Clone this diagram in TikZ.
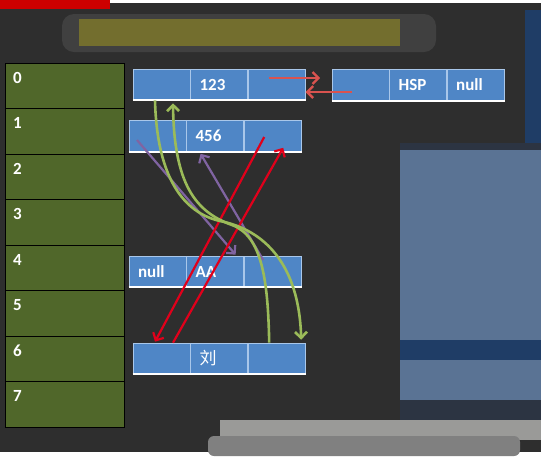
\documentclass[tikz,border=0pt]{standalone}
\usepackage{fontspec}
\setmainfont{Carlito}
\newfontfamily\cjk{Noto Sans CJK SC}
\usetikzlibrary{positioning, calc, arrows.meta}
\definecolor{board}{HTML}{2E2E2E}
\definecolor{slotgreen}{HTML}{50672A}
\definecolor{cellblue}{HTML}{4F86C6}
\definecolor{cellline}{HTML}{A9C7EA}
\definecolor{linkred}{HTML}{D9534F}
\definecolor{crossred}{HTML}{E0001B}
\definecolor{linkgreen}{HTML}{9BBB59}
\definecolor{linkpurple}{HTML}{8064A2}
\definecolor{blurblue}{HTML}{5A7394}
\definecolor{blurnavy}{HTML}{1F3D66}
\definecolor{blurdark}{HTML}{2C3442}
\definecolor{blurgrey}{HTML}{9A9A98}
\definecolor{blurolive}{HTML}{736E2E}

\begin{document}
\begin{tikzpicture}[x=1pt, y=-1pt, >={Straight Barb[length=6pt,width=12pt]},
    slot/.style={draw=black, fill=slotgreen, minimum width=119pt, minimum height=45.5pt, inner sep=0pt},
    slotnum/.style={anchor=north west, inner sep=0pt, text=white, font=\fontsize{17}{20}\selectfont\bfseries},
    cell/.style={draw=cellline, line width=0.6pt, fill=cellblue, text=white, minimum height=31pt,
        text width=39pt, inner xsep=9pt, inner ysep=0pt, align=left, font=\fontsize{17}{20}\selectfont\bfseries},
    edge/.style={white, line width=1.8pt},
    shortlink/.style={->, linkred, line width=2.4pt},
    crosslink/.style={->, crossred, line width=2.2pt},
    curvelink/.style={->, linkgreen, line width=2.6pt},
    backlink/.style={->, linkpurple, line width=2.2pt}]
    \useasboundingbox (0,0) rectangle (541,459);

    % Board and blurred parts of the screenshot
    \fill[white] (0,0) rectangle (541,459);
    \fill[board] (0,3) rectangle (541,452);
    \fill[red!80!black] (0,0) rectangle (110,9);
    \fill[black!75, rounded corners=12pt] (62,14) rectangle (436,52);
    \fill[blurolive] (79,19) rectangle (400,46);
    \fill[blurnavy] (525,10) rectangle (541,148);
    \fill[blurdark] (400,143) rectangle (541,150);
    \fill[blurblue] (400,150) rectangle (541,400);
    \fill[blurnavy] (400,340) rectangle (541,360);
    \fill[blurdark] (400,400) rectangle (541,420);
    \fill[blurgrey] (220,420) rectangle (541,440);
    \fill[black!50, rounded corners=6pt] (208,436) rectangle (520,456);

    % Table slots
    \foreach \i in {0,...,7} {
        \node[slot] (s\i) at (64.5, {85.75+45.5*\i}) {};
        \node[slotnum] at ([shift={(8,9)}]s\i.north west) {\i};
    }

    % Nodes
    \node[cell] (n0a) at (161.5,84.5) {};
    \node[cell, right=0pt of n0a] (n0b) {123};
    \node[cell, right=0pt of n0b] (n0c) {};

    \node[cell] (h0a) at (360.5,85) {};
    \node[cell, right=0pt of h0a] (h0b) {HSP};
    \node[cell, right=0pt of h0b] (h0c) {null};

    \node[cell] (n1a) at (157.5,136) {};
    \node[cell, right=0pt of n1a] (n1b) {456};
    \node[cell, right=0pt of n1b] (n1c) {};

    \node[cell] (n2a) at (157.5,271.5) {null};
    \node[cell, right=0pt of n2a] (n2b) {AA};
    \node[cell, right=0pt of n2b] (n2c) {};

    \node[cell] (n3a) at (161.5,358.5) {};
    \node[cell, right=0pt of n3a, font=\fontsize{17}{20}\selectfont\cjk] (n3b) {刘};
    \node[cell, right=0pt of n3b] (n3c) {};

    \draw[edge] (n0a.south west) -- (n0c.south east);
    \draw[edge] (h0a.south west) -- (h0c.south east);
    \draw[edge] (n1a.south west) -- (n1c.south east);
    \draw[edge] (n2a.south west) -- (n2c.south east);
    \draw[edge] (n3a.south west) -- (n3c.south east);

    % Links 123 <-> HSP
    \draw[shortlink] ([shift={(-7.5,-6.5)}]n0c.center) -- ([shift={(-11.5,-7)}]h0a.west);
    \draw[shortlink] ([shift={(-8.5,7)}]h0a.center) -- ([shift={(0,7.5)}]n0c.east);

    % Links 456 <-> AA
    \draw[backlink] ([shift={(-20.5,4)}]n1a.center) -- ([shift={(20.5,-1)}]n2b.north);
    \draw[backlink] ([shift={(-9.5,-11.5)}]n2c.center) -- ([shift={(-14.5,2)}]n1b.south);

    % Links 456 <-> liu
    \draw[crosslink] ([shift={(-8.5,1)}]n1c.center) -- ([shift={(-6.5,-1)}]n3a.north);
    \draw[crosslink] ([shift={(11.5,0)}]n3a.north) -- ([shift={(10.5,-4)}]n1c.south);

    % Links 123 <-> liu
    \draw[curvelink] ([shift={(-6.5,0)}]n0a.south) .. controls (157,180) and (185,213) .. (220,221)
        .. controls (265,230) and (299,265) .. ([shift={(24.5,-3)}]n3c.north);
    \draw[curvelink] ([shift={(-7.5,0)}]n3c.north) .. controls (268,280) and (262,236) .. (232,225)
        .. controls (196,212) and (174,185) .. ([shift={(11.5,3)}]n0a.south);
\end{tikzpicture}
\end{document}
